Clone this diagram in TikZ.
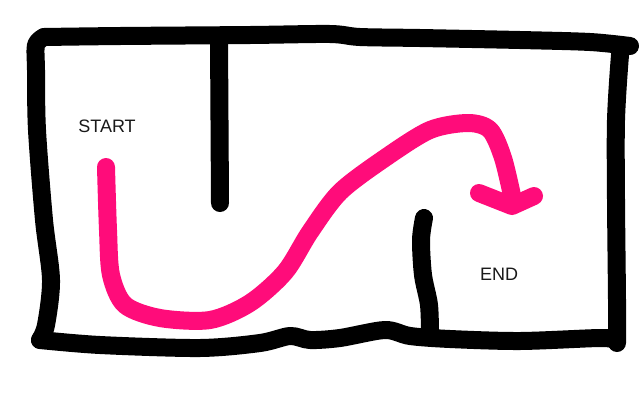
\documentclass[tikz,border=0pt]{standalone}
\usepackage{fontspec}
\setmainfont{Liberation Sans}
\usepackage{xcolor}
\definecolor{mazepink}{RGB}{255,12,122}
\usepackage{tikz}
\usetikzlibrary{positioning}

\begin{document}
\begin{tikzpicture}[x=1pt, y=-1pt,
    wall/.style={draw=black, line width=18pt, line cap=round, line join=round},
    route/.style={draw=mazepink, line width=18pt, line cap=round, line join=round},
    label/.style={font=\fontsize{18}{20}\selectfont, text=black!90}]
  \useasboundingbox[fill=white] (0,0) rectangle (640,400);

  % Outer walls
  \draw[wall] plot[smooth, tension=0.5] coordinates {(630,46) (590,42) (520,40) (420,38) (360,37) (330,34) (250,35) (120,36) (44,37)};
  \draw[wall] plot[smooth, tension=0.5] coordinates {(44,37) (36,45) (36,70) (37,130) (44,220) (51,280) (46,325) (40,340)};
  \draw[wall] plot[smooth, tension=0.5] coordinates {(40,340) (100,345) (200,348) (260,343) (290,336) (310,340) (340,338) (385,330) (410,336) (450,339) (520,341) (600,338) (614,340)};
  \draw[wall] plot[smooth, tension=0.5] coordinates {(617,343) (617,300) (616,200) (616,120) (620,55) (622,48)};

  % Inner walls
  \draw[wall] (219,38) -- (220,203);
  \draw[wall] plot[smooth, tension=0.5] coordinates {(424,218) (421,240) (423,275) (429,305) (430,335)};

  % Route
  \draw[route] plot[smooth, tension=0.5] coordinates {(106,167) (108,230) (111,275) (125,305) (160,318) (210,320) (250,303) (285,272) (310,232) (340,192) (385,158) (430,130) (468,123) (490,130) (503,158) (513,200)};
  \draw[route] (479,193) -- (512,206) -- (534,196);

  % Labels
  \node[label] (start) at (107,126) {START};
  \node[label] (end) at (499,274) {END};
\end{tikzpicture}
\end{document}
